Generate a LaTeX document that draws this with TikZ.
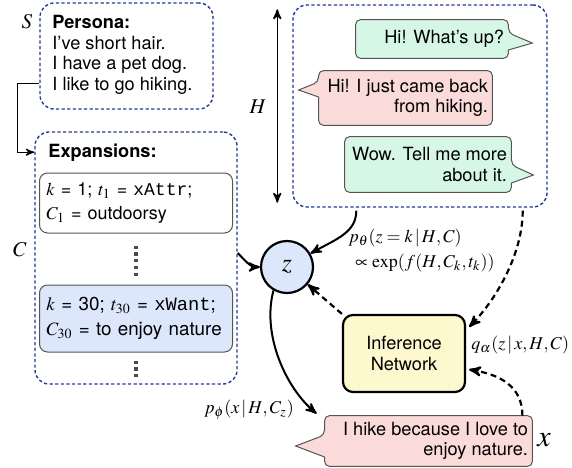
\documentclass[tikz,border=0pt]{standalone}
\usepackage{mathptmx}
\usepackage{fontspec}
\setmainfont{TeX Gyre Heros}
\setmonofont{Liberation Mono}
\usetikzlibrary{arrows,calc,fit}
\definecolor{grpblue}{HTML}{23399A}
\definecolor{zblue}{HTML}{DCE7FB}
\definecolor{saygreen}{HTML}{D6F7E6}
\definecolor{saypink}{HTML}{FADBDA}
\definecolor{infyellow}{HTML}{FDF8CE}
\definecolor{edgegray}{HTML}{555555}
\tikzset{>=stealth',
  group/.style={draw=grpblue, line width=0.7pt, dash pattern=on 1.6pt off 1.2pt,
    rounded corners=7pt, inner sep=0pt},
  txt/.style={inner sep=0pt, align=left},
  kbox/.style={draw=edgegray, line width=0.5pt, rounded corners=4pt,
    minimum width=96.5pt, inner xsep=3.5pt, text width=89.5pt, align=left},
  frame/.style={inner sep=0pt},
  saybox/.style={draw=edgegray, line width=0.5pt, rounded corners=2.5pt},
  var/.style={inner sep=0pt, font=\fontsize{10.5}{12}\selectfont},
  lbl/.style={inner sep=0pt, font=\fontsize{9}{10}\selectfont},
  link/.style={->, line width=1pt},
  guess/.style={->, line width=1.1pt, dash pattern=on 3pt off 2pt},
  vdots/.style={line width=1.6pt, draw=black!70, dash pattern=on 1.6pt off 1.8pt}}

\begin{document}
\begin{tikzpicture}[x=0.5pt, y=-0.5pt, font=\fontsize{9.1}{10.3}\selectfont]
  \useasboundingbox (0,0) rectangle (572,467);

  % persona S
  \node[group, fit={(40,3) (213,109)}] (persona) {};
  \node[txt, anchor=north west] (facts) at (52,15)
    {\textbf{Persona:}\\I've short hair.\\I have a pet dog.\\I like to go hiking.};
  \node[var] (S) at (27,22) {$S$};

  % expansions C
  \node[group, fit={(35,132) (237,384)}] (expand) {};
  \node[txt, anchor=base west] (exptitle) at (48,157) {\textbf{Expansions:}};
  \node[kbox, minimum height=30pt, font=\fontsize{9}{10}\selectfont] (k1) at (136,203)
    {\mbox{$k$ = 1; $t_1$ = \texttt{xAttr};}\\[2pt]\mbox{$C_1$ = outdoorsy}};
  \node[kbox, fill=zblue, minimum height=33.5pt, font=\fontsize{9.4}{10.4}\selectfont] (k30) at (136,318.5)
    {\mbox{$k$ = 30; $t_{30}$ = \texttt{xWant};}\\[2pt]\mbox{$C_{30}$ = to enjoy nature}};
  \draw[vdots] ($(k1.south)+(0,12)$) -- ($(k30.north)+(0,-7)$);
  \draw[vdots] ($(k30.south)+(0,8)$) -- ($(expand.south)+(0,-6)$);
  \node[var] (C) at (20,250) {$C$};
  \draw[->, line width=0.6pt] ($(persona.south west)+(0,-26)$) -- ++(-22,0)
    |- (expand.west |- exptitle.west);

  % dialogue history H
  \node[group, fit={(293,5) (547,207)}] (hist) {};
  \draw[<->, line width=0.8pt] ($(hist.north west)+(-15,5)$) -- ($(hist.south west)+(-15,-5)$);
  \node[var] (H) at (258,107) {$H$};

  \node[frame, minimum width=76pt, minimum height=19pt] (u1) at (432,39) {};
  \draw[saybox, fill=saygreen] (u1.north) -- (u1.north east) -- ($(u1.east)+(0,-6)$)
    [sharp corners] -- ($(u1.east)+(24,4)$) -- ($(u1.east)+(0,11)$)
    [rounded corners=2.5pt] -- (u1.south east) -- (u1.south west) -- (u1.north west) -- cycle;
  \node[txt, align=right, anchor=east] (u1t) at ($(u1.east)+(-4,0)$) {Hi! What's up?};

  \node[frame, minimum width=86.5pt, minimum height=27pt] (u2) at (405.5,98) {};
  \draw[saybox, fill=saypink] (u2.north) -- (u2.north west) -- ($(u2.west)+(0,-16)$)
    [sharp corners] -- ($(u2.west)+(-20,-8)$) -- ($(u2.west)+(0,-1)$)
    [rounded corners=2.5pt] -- (u2.south west) -- (u2.south east) -- (u2.north east) -- cycle;
  \node[txt, align=right, anchor=east] (u2t) at ($(u2.east)+(-4,0)$) {Hi! I just came back\\from hiking.};

  \node[frame, minimum width=83pt, minimum height=27.5pt] (u3) at (428,164.5) {};
  \draw[saybox, fill=saygreen] (u3.north) -- (u3.north east) -- ($(u3.east)+(0,0.5)$)
    [sharp corners] -- ($(u3.east)+(22,10.5)$) -- ($(u3.east)+(0,18.5)$)
    [rounded corners=2.5pt] -- (u3.south east) -- (u3.south west) -- (u3.north west) -- cycle;
  \node[txt, align=right, anchor=east] (u3t) at ($(u3.east)+(-4,0)$) {Wow. Tell me more\\about it.};

  % latent z and inference network
  \node[circle, draw, line width=1.1pt, fill=zblue, minimum size=26pt, inner sep=0pt,
    font=\fontsize{13}{14}\selectfont] (z) at (287,267) {$z$};
  \node[draw, line width=1.1pt, fill=infyellow, rounded corners=5pt, minimum width=61pt,
    minimum height=38.5pt, align=center] (inf) at (404,353.5) {Inference\\Network};

  % response x
  \node[frame, minimum width=103.5pt, minimum height=25pt] (bx) at (428.5,441) {};
  \draw[saybox, fill=saypink] (bx.north) -- (bx.north west) -- ($(bx.west)+(0,-6)$)
    [sharp corners] -- ($(bx.west)+(-29,5)$) -- ($(bx.west)+(0,16)$)
    [rounded corners=2.5pt] -- (bx.south west) -- (bx.south east) -- (bx.north east) -- cycle;
  \node[txt, align=right, anchor=east] (bxt) at ($(bx.east)+(-4,0)$) {I hike because I love to\\enjoy nature.};
  \node[var, font=\fontsize{15}{16}\selectfont] (x) at (544,440) {$x$};

  % connectors
  \draw[link] ($(hist.south west)+(64,3)$) .. controls +(0,22) and +(25,-14) .. (z.30);
  \draw[link] ($(expand.east)+(0,-5)$) .. controls +(8,8) and +(-10,0) .. (z.west);
  \draw[link] (z.240) .. controls +(-12,45) and +(-30,-25) .. ($(bx.north west)+(-8,-2)$);
  \draw[guess] ($(hist.south east)+(-25,3)$) .. controls +(0,45) and +(25,-25) .. ($(inf.north east)+(3,13)$);
  \draw[guess] (inf.north west) -- (z.-40);
  \draw[guess] ($(bx.north east)+(-10,0)$) .. controls +(0,-30) and +(30,5) .. ($(inf.east)+(3,16)$);

  \node[lbl, anchor=west] (prior) at (348,238) {$p_\theta(z = k\,|\,H, C)$};
  \node[lbl, anchor=west] (score) at (355,263) {$\propto \exp(f(H, C_k, t_k))$};
  \node[lbl, anchor=west] (post) at (471,345) {$q_\alpha(z\,|\,x, H, C)$};
  \node[lbl] (lik) at (249,410) {$p_\phi(x\,|\,H, C_z)$};
\end{tikzpicture}
\end{document}
